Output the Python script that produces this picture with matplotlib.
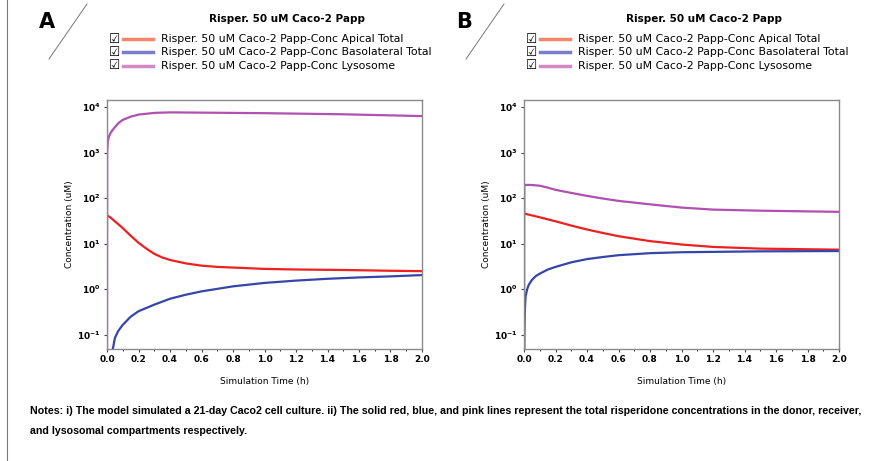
import matplotlib
matplotlib.use('Agg')
import matplotlib.pyplot as plt
from matplotlib.lines import Line2D
import numpy as np

W, H = 881, 461

# Panel A data (time in h, concentration in uM)
t_a_apical = [0.0, 0.02, 0.05, 0.1, 0.15, 0.2, 0.25, 0.3, 0.35, 0.4, 0.5, 0.6, 0.7, 0.8, 1.0, 1.2, 1.5, 1.8, 2.0]
a_apical = [42, 38, 31, 22, 15, 10.5, 7.8, 6.0, 5.0, 4.4, 3.7, 3.3, 3.1, 3.0, 2.8, 2.72, 2.65, 2.55, 2.5]
t_a_baso = [0.035, 0.05, 0.07, 0.1, 0.15, 0.2, 0.3, 0.4, 0.5, 0.6, 0.8, 1.0, 1.2, 1.4, 1.6, 1.8, 2.0]
a_baso = [0.045, 0.085, 0.12, 0.166, 0.25, 0.33, 0.46, 0.62, 0.76, 0.90, 1.16, 1.38, 1.55, 1.7, 1.82, 1.92, 2.05]
t_a_lyso = [0.0, 0.001, 0.005, 0.01, 0.02, 0.035, 0.05, 0.075, 0.1, 0.15, 0.2, 0.3, 0.4, 0.6, 1.0, 1.5, 2.0]
a_lyso = [0.01, 1000, 1700, 2100, 2600, 3100, 3600, 4500, 5200, 6100, 6800, 7400, 7600, 7500, 7300, 6900, 6300]

# Panel B data
t_b_apical = [0.0, 0.1, 0.2, 0.3, 0.4, 0.5, 0.6, 0.8, 1.0, 1.2, 1.5, 2.0]
b_apical = [46, 38, 31, 25, 20.5, 17.2, 14.6, 11.4, 9.6, 8.5, 7.8, 7.4]
t_b_baso = [0.0, 0.003, 0.006, 0.01, 0.02, 0.03, 0.05, 0.075, 0.1, 0.15, 0.2, 0.3, 0.4, 0.5, 0.6, 0.8, 1.0, 1.5, 2.0]
b_baso = [0.01, 0.15, 0.4, 0.7, 1.0, 1.25, 1.6, 1.95, 2.2, 2.7, 3.1, 3.9, 4.6, 5.1, 5.6, 6.2, 6.5, 6.8, 6.9]
t_b_lyso = [0.0, 0.002, 0.05, 0.1, 0.15, 0.2, 0.3, 0.4, 0.5, 0.6, 0.8, 1.0, 1.2, 1.5, 2.0]
b_lyso = [0.01, 195, 194, 187, 170, 152, 130, 112, 98, 87, 73, 62, 56, 53, 50]

series_names = ['Risper. 50 uM Caco-2 Papp-Conc Apical Total',
                'Risper. 50 uM Caco-2 Papp-Conc Basolateral Total',
                'Risper. 50 uM Caco-2 Papp-Conc Lysosome']
line_colors = ['#ee2020', '#3646a8', '#b050b0']
swatch_colors = ['#f4866a', '#7a7ccc', '#d488c8']

x_ticks = np.arange(0, 2.01, 0.2)
y_ticks = [0.1, 1, 10, 100, 1000, 10000]
y_tick_labels = [r'$\mathbf{10^{-1}}$', r'$\mathbf{10^{0}}$', r'$\mathbf{10^{1}}$',
                 r'$\mathbf{10^{2}}$', r'$\mathbf{10^{3}}$', r'$\mathbf{10^{4}}$']

note = ('Notes: i) The model simulated a 21-day Caco2 cell culture. ii) The solid red, blue, and pink lines '
        'represent the total risperidone concentrations in the donor, receiver,\nand lysosomal compartments respectively.')

fig = plt.figure(figsize=(W / 100, H / 100), dpi=100)
plt.rcParams['mathtext.fontset'] = 'dejavusans'


def fx(x):
    return x / W


def fy(y):
    return 1 - y / H


def make_panel(left, letter, data):
    right = left + 315
    ax = fig.add_axes([fx(left), fy(349), fx(right) - fx(left), fy(100) - fy(349)])
    for (t, v), c in zip(data, line_colors):
        ax.plot(t, v, color=c, lw=1.6)
    ax.set_yscale('log')
    ax.set_ylim(0.049, 14200)
    ax.set_xlim(0, 2.0)
    ax.set_xticks(x_ticks)
    ax.set_xticklabels(['%.1f' % v for v in x_ticks], fontsize=6.5, fontweight='bold')
    ax.set_xticks(np.arange(0.1, 2.0, 0.2), minor=True)
    ax.set_yticks(y_ticks)
    ax.set_yticklabels(y_tick_labels, fontsize=6.5)
    ax.yaxis.set_minor_locator(matplotlib.ticker.NullLocator())
    ax.tick_params(length=2.5, width=0.8, pad=2, color='#444444')
    ax.tick_params(which='minor', length=1.5, width=0.6)
    for s in ax.spines.values():
        s.set_color('#8a8a8a')
        s.set_linewidth(1.0)
    ax.set_ylabel('Concentration (uM)', fontsize=6.5, labelpad=2)
    ax.set_xlabel('Simulation Time (h)', fontsize=6.5, labelpad=9)

    # panel letter and diagonal stroke
    fig.text(fx(left - 60), fy(22), letter, fontsize=15, fontweight='bold', ha='center', va='center')
    fig.add_artist(Line2D([fx(left - 58), fx(left - 20)], [fy(59), fy(4)], color='#777777', lw=0.7))

    # title and legend block
    fig.text(fx(left + 180), fy(19), 'Risper. 50 uM Caco-2 Papp', fontsize=7.5, fontweight='bold',
             ha='center', va='center')
    for i, (name, sc) in enumerate(zip(series_names, swatch_colors)):
        yy = fy(39 + 13.3 * i)
        fig.text(fx(left + 8), yy, '\u2611', fontsize=9, ha='center', va='center')
        fig.add_artist(Line2D([fx(left + 16), fx(left + 46)], [yy, yy], color=sc, lw=2.5))
        fig.text(fx(left + 54), yy, name, fontsize=7.85, ha='left', va='center')
    return ax


make_panel(107, 'A', [(t_a_apical, a_apical), (t_a_baso, a_baso), (t_a_lyso, a_lyso)])
make_panel(524, 'B', [(t_b_apical, b_apical), (t_b_baso, b_baso), (t_b_lyso, b_lyso)])

# left border of the figure box
fig.add_artist(Line2D([fx(7), fx(7)], [0, 1], color='#777777', lw=0.8))

fig.text(fx(30), fy(406), note, fontsize=7.7, fontweight='bold', ha='left', va='top',
         family='Liberation Sans', linespacing=2.25)

fig.savefig('out.png', dpi=100)
